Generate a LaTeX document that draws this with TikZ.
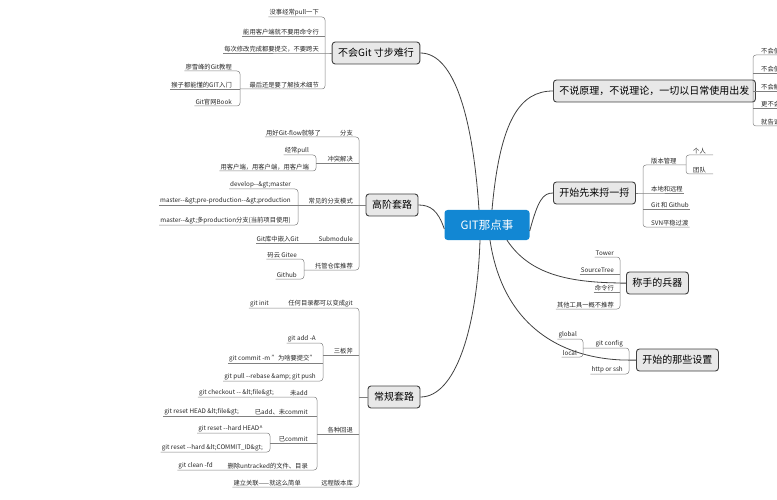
\documentclass[tikz,border=0pt]{standalone}
\usepackage{fontspec}
\setmainfont{Noto Sans CJK SC}
\begin{document}
\begin{tikzpicture}[x=1pt,y=-1pt,
  mainbox/.style={draw=black!75,fill=black!9,rounded corners=3pt,line width=0.9pt,inner xsep=6pt,minimum height=22pt,font=\fontsize{10}{12}\selectfont},
  centerbox/.style={fill=cBlue,text=white,rounded corners=3pt,minimum width=85pt,minimum height=30pt,font=\fontsize{11.5}{13}\selectfont},
  leafl/.style={anchor=south east,inner sep=1pt,font=\fontsize{6.3}{7}\selectfont,text=black!85},
  leafr/.style={anchor=south west,inner sep=1pt,font=\fontsize{6.3}{7}\selectfont,text=black!85},
  br/.style={draw=black!50,line width=0.5pt,rounded corners=3pt},
  conn/.style={draw=black!75,line width=0.8pt}]
\definecolor{cBlue}{HTML}{1287D3}
\useasboundingbox (0,0) rectangle (777,500);
% main nodes
\node[centerbox] (C) at (487,225) {GIT那点事};
\node[mainbox] (n1) at (376,53) {不会Git 寸步难行};
\node[mainbox] (n2) at (392,205) {高阶套路};
\node[mainbox] (n3) at (394,397) {常规套路};
\node[mainbox,anchor=west] (m1) at (553,91) {不说原理，不说理论，一切以日常使用出发};
\node[mainbox,anchor=west] (m2) at (553,193) {开始先来捋一捋};
\node[mainbox,anchor=west] (m3) at (626,283) {称手的兵器};
\node[mainbox,anchor=west] (m4) at (636,360) {开始的那些设置};
% center connectors
\draw[conn] ([xshift=-8pt]C.north) .. controls (473,120) and (455,53) .. (n1.east);
\draw[conn] ([yshift=-4pt]C.west) .. controls (438,210) and (430,205) .. (n2.east);
\draw[conn] ([xshift=-7pt]C.south) .. controls (477,330) and (455,397) .. (n3.east);
\draw[conn] ([xshift=5pt]C.north) .. controls (500,120) and (520,91) .. (m1.west);
\draw[conn] ([yshift=-6pt]C.east) .. controls (538,200) and (543,193) .. (m2.west);
\draw[conn] ([xshift=20pt]C.south) .. controls (530,275) and (570,283) .. (m3.west);
\draw[conn] ([xshift=3pt]C.south) .. controls (505,340) and (580,362) .. (m4.west);
% group 1
\node[leafl] (a1) at (320,17) {没事经常pull一下};
\node[leafl] (a2) at (320,36) {能用客户端就不要用命令行};
\node[leafl] (a3) at (320,53) {每次修改完成都要提交，不要跨天};
\node[leafl] (a4) at (320,89) {最后还是要了解技术细节};
\node[leafl] (a41) at (233,71) {廖雪峰的Git教程};
\node[leafl] (a42) at (233,89) {猴子都能懂的GIT入门};
\node[leafl] (a43) at (233,106) {Git官网Book};
\draw[br] (a1.south west) -- (325,17) -- (325,89) -- (240,89);
\draw[br] (a2.south west) -- (325,36);
\draw[br] (a3.south west) -- (325,53) -- (n1.west);
\draw[br] (a41.south west) -- (240,71) -- (240,106) -- (a43.south west);
\draw[br] (a42.south west) -- (240,89);
% group 2
\node[leafl] (b1) at (354,137) {分支};
\node[leafl] (b11) at (322,137) {用好Git-flow就够了};
\node[leafl] (b2) at (354,163) {冲突解决};
\node[leafl] (b21) at (310,155) {经常pull};
\node[leafl] (b22) at (310,171) {用客户端，用客户端，用客户端};
\node[leafl] (b3) at (354,205) {常见的分支模式};
\node[leafl] (b31) at (292,189) {develop-{}-\&gt;master};
\node[leafl] (b32) at (292,205) {master-{}-\&gt;pre-production-{}-\&gt;production};
\node[leafl] (b33) at (292,225) {master-{}-\&gt;多production分支(当前项目使用)};
\node[leafl] (b4) at (354,243) {Submodule};
\node[leafl] (b41) at (300,243) {Git库中嵌入Git};
\node[leafl] (b5) at (354,270) {托管仓库推荐};
\node[leafl] (b51) at (298,259) {码云 Gitee};
\node[leafl] (b52) at (298,279) {Github};
\draw[br] (b11.south west) -- (359,137) -- (359,270) -- (304,270);
\draw[br] (n2.west) -- (359,205);
\draw[br] (359,163) -- (316,163);
\draw[br] (b21.south west) -- (316,155) -- (316,171) -- (b22.south west);
\draw[br] (359,205) -- (298,205);
\draw[br] (b31.south west) -- (298,189) -- (298,225) -- (b33.south west);
\draw[br] (b32.south west) -- (298,205);
\draw[br] (359,243) -- (b41.south west);
\draw[br] (b51.south west) -- (304,259) -- (304,279) -- (b52.south west);
% group 3
\node[leafl] (c1) at (354,308) {任何目录都可以变成git};
\node[leafl] (c11) at (270,308) {git init};
\node[leafl] (c2) at (354,355) {三板斧};
\node[leafl] (c21) at (317,343) {git add -A};
\node[leafl] (c22) at (317,363) {git commit -m "为啥要提交"};
\node[leafl] (c23) at (317,381) {git pull -{}-rebase \&amp; git push};
\node[leafl] (c3) at (354,434) {各种回退};
\node[leafl] (c31) at (309,397) {未add};
\node[leafl] (c311) at (275,397) {git checkout -{}- \&lt;file\&gt;};
\node[leafl] (c32) at (309,416) {已add、未commit};
\node[leafl] (c321) at (240,416) {git reset HEAD \&lt;file\&gt;};
\node[leafl] (c33) at (309,443) {已commit};
\node[leafl] (c331) at (264,433) {git reset -{}-hard HEAD\textasciicircum};
\node[leafl] (c332) at (264,452) {git reset -{}-hard \&lt;COMMIT\_ID\&gt;};
\node[leafl] (c34) at (309,470) {删除untracked的文件、目录};
\node[leafl] (c341) at (214,470) {git clean -fd};
\node[leafl] (c4) at (354,487) {远程版本库};
\node[leafl] (c41) at (302,487) {建立关联——就这么简单};
\draw[br] (c11.south west) -- (359,308) -- (359,487) -- (c41.south west);
\draw[br] (n3.west) -- (359,397);
\draw[br] (359,355) -- (323,355);
\draw[br] (c21.south west) -- (323,343) -- (323,381) -- (c23.south west);
\draw[br] (c22.south west) -- (323,363);
\draw[br] (359,434) -- (317,434);
\draw[br] (c311.south west) -- (317,397) -- (317,470) -- (c341.south west);
\draw[br] (c321.south west) -- (317,416);
\draw[br] (317,443) -- (270,443);
\draw[br] (c331.south west) -- (270,433) -- (270,452) -- (c332.south west);
% right group 1
\node[leafr] (d1) at (760,55) {不会使用命令行};
\node[leafr] (d2) at (760,73) {不会使用分支};
\node[leafr] (d3) at (760,91) {不会解决冲突};
\node[leafr] (d4) at (760,108) {更不会版本回退};
\node[leafr] (d5) at (760,126) {就告诉你怎么用};
\draw[br] (d1.south east) -- (753,55) -- (753,126) -- (d5.south east);
\draw[br] (m1.east) -- (753,91);
\draw[br] (753,73) -- (d2.south east);
\draw[br] (753,91) -- (d3.south east);
\draw[br] (753,108) -- (d4.south east);
% right group 2
\node[leafr] (e1) at (650,165) {版本管理};
\node[leafr] (e11) at (692,155) {个人};
\node[leafr] (e12) at (692,174) {团队};
\node[leafr] (e2) at (650,193) {本地和远程};
\node[leafr] (e3) at (650,209) {Git 和 Github};
\node[leafr] (e4) at (650,227) {SVN平稳过渡};
\draw[br] (686,165) -- (643,165) -- (643,227) -- (e4.south east);
\draw[br] (m2.east) -- (643,193) -- (e2.south east);
\draw[br] (643,209) -- (e3.south east);
\draw[br] ([xshift=6pt]e11.south east) -- (686,155) -- (686,174) -- ([xshift=6pt]e12.south east);
% right group 3
\node[leafl] (f1) at (615,257) {Tower};
\node[leafl] (f2) at (615,274) {SourceTree};
\node[leafl] (f3) at (615,292) {命令行};
\node[leafl] (f4) at (615,309) {其他工具一概不推荐};
\draw[br] (f1.south west) -- (620,257) -- (620,309) -- (f4.south west);
\draw[br] (f2.south west) -- (620,274);
\draw[br] (f3.south west) -- (620,292);
\draw[br] (m3.west) -- (620,283);
% right group 4
\node[leafl] (g1) at (624,348) {git config};
\node[leafl] (g11) at (578,339) {global};
\node[leafl] (g12) at (578,357) {local};
\node[leafl] (g2) at (624,374) {http or ssh};
\draw[br] (583,348) -- (629,348) -- (629,374) -- (g2.south west);
\draw[br] (m4.west) -- (629,360);
\draw[br] (g11.south west) -- (583,339) -- (583,357) -- (g12.south west);
\end{tikzpicture}
\end{document}
